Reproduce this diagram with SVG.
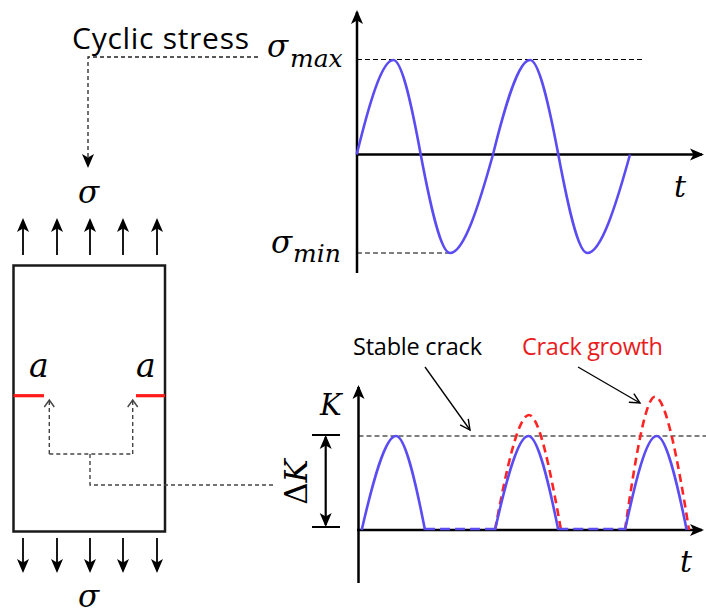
<svg xmlns="http://www.w3.org/2000/svg" width="706" height="613" viewBox="0 0 706 613">
<style>
.axis{stroke:#000;stroke-width:2.5;fill:none}
.guide{stroke:#000;stroke-width:1;stroke-dasharray:5 3;fill:none}
.conn{stroke:#222;stroke-width:1.3;stroke-dasharray:4 3;fill:none}
.crackconn{stroke:#444;stroke-width:1.4;stroke-dasharray:4 3;fill:none}
.load{stroke:#000;stroke-width:1.8;fill:none}
.blue{stroke:#5a4cf2;stroke-width:2.6;fill:none}
.bluedash{stroke:#5a4cf2;stroke-width:2.6;fill:none;stroke-dasharray:10 5}
.reddash{stroke:#ff2424;stroke-width:2.6;fill:none;stroke-dasharray:8 5}
.crack{stroke:#ff1a1a;stroke-width:3.2}
.math{font-family:"DejaVu Serif","Liberation Serif",serif;font-style:italic;fill:#000}
.lbl{font-family:"Open Sans","Liberation Sans",sans-serif;fill:#000}
.thin{stroke:#000;stroke-width:1.3;fill:none}
</style>
<defs>
<marker id="ah" viewBox="-16 -8 20 16" markerWidth="20" markerHeight="16" refX="0" refY="0" orient="auto-start-reverse" markerUnits="userSpaceOnUse">
<path d="M2,0 L-12,-6 L-8.5,0 L-12,6 Z" fill="#000"/>
</marker>
<marker id="chev" viewBox="-12 -8 16 16" markerWidth="16" markerHeight="16" refX="0" refY="0" orient="auto" markerUnits="userSpaceOnUse">
<path d="M-7,-5 L0,0 L-7,5" fill="none" stroke="#444" stroke-width="1.4"/>
</marker>
<marker id="vopen" viewBox="-14 -8 18 16" markerWidth="18" markerHeight="16" refX="0" refY="0" orient="auto" markerUnits="userSpaceOnUse">
<path d="M-10,-5 L0,0 L-10,5" fill="none" stroke="#000" stroke-width="1.4"/>
</marker>
</defs>

<g id="stress-graph">
<line class="guide" x1="357" y1="59.5" x2="644" y2="59.5"/>
<line class="guide" x1="357" y1="253" x2="450" y2="253"/>
<line class="axis" x1="357" y1="273" x2="357" y2="12" marker-end="url(#ah)"/>
<line class="axis" x1="357" y1="154.5" x2="702" y2="154.5" marker-end="url(#ah)"/>
<path class="blue" d="M356.7,154.5 C368.8,105.4 381.6,60 393.3,60 C402.1,60 411.7,105.4 420.7,154.5 C430.4,205.7 440.6,253 450,253 C463.8,253 478.8,205.7 493,154.5 C505.2,105.4 518.2,60 530,60 C539.1,60 549,105.4 558.3,154.5 C567.9,205.7 578,253 587.3,253 C601,253 615.9,205.7 630,154.5"/>
<text class="math" x="267" y="57" font-size="31">σ</text>
<text class="math" x="290" y="67" font-size="25">max</text>
<text class="math" x="271" y="253" font-size="31">σ</text>
<text class="math" x="293" y="262" font-size="25">min</text>
<text class="math" x="674" y="197" font-size="30">t</text>
</g>

<g id="cyclic-stress-label">
<text class="lbl" x="72" y="49" font-size="30" textLength="177">Cyclic stress</text>
</g>

<g id="specimen">
<rect x="13.5" y="265.5" width="151.5" height="266" fill="none" stroke="#1a1a1a" stroke-width="2.5"/>
<line class="crack" x1="13.5" y1="395.7" x2="44" y2="395.7"/>
<line class="crack" x1="136" y1="395.7" x2="165" y2="395.7"/>
<text class="math" x="29" y="377" font-size="33">a</text>
<text class="math" x="136" y="377" font-size="33">a</text>
</g>

<g id="loads-top">
<text class="math" x="78" y="203" font-size="31">σ</text>
<line class="load" x1="23" y1="255" x2="23" y2="220" marker-end="url(#ah)"/>
<line class="load" x1="57" y1="255" x2="57" y2="220" marker-end="url(#ah)"/>
<line class="load" x1="90" y1="255" x2="90" y2="220" marker-end="url(#ah)"/>
<line class="load" x1="123" y1="255" x2="123" y2="220" marker-end="url(#ah)"/>
<line class="load" x1="157" y1="255" x2="157" y2="220" marker-end="url(#ah)"/>
</g>

<g id="loads-bottom">
<line class="load" x1="23" y1="538" x2="23" y2="571" marker-end="url(#ah)"/>
<line class="load" x1="57" y1="538" x2="57" y2="571" marker-end="url(#ah)"/>
<line class="load" x1="90" y1="538" x2="90" y2="571" marker-end="url(#ah)"/>
<line class="load" x1="123" y1="538" x2="123" y2="571" marker-end="url(#ah)"/>
<line class="load" x1="157" y1="538" x2="157" y2="571" marker-end="url(#ah)"/>
<text class="math" x="78" y="607" font-size="31">σ</text>
</g>

<g id="k-graph">
<line class="guide" x1="358.5" y1="436" x2="706" y2="436"/>
<line class="axis" x1="358.5" y1="583" x2="358.5" y2="387" marker-end="url(#ah)"/>
<line class="axis" x1="357" y1="530" x2="702" y2="530" marker-end="url(#ah)"/>
<path class="reddash" d="M495,530 C506.2,470.2 518.1,415 529,415 C539.2,415 550.4,470.2 561,530"/>
<path class="reddash" d="M625,530 C634.9,460.7 645.4,396.7 655,396.7 C665.9,396.7 678.1,460.7 689,530"/>
<path class="blue" d="M361.7,530 C373,481.1 385,436 396,436 C405.3,436 415.4,481.1 425,530"/>
<path class="blue" d="M495,530 C506,481.1 517.9,436 528.3,436 C537.9,436 548.4,481.1 558.3,530"/>
<path class="blue" d="M625,530 C635.5,481.1 646.3,436 656.7,436 C666.3,436 676.8,481.1 686.7,530"/>
<path class="bluedash" d="M425,529 H495 M558.3,529 H625"/>
<text class="math" x="320" y="415" font-size="29">K</text>
<text class="math" x="680" y="572" font-size="30">t</text>
</g>

<g id="delta-k">
<line x1="312" y1="435" x2="340" y2="435" stroke="#000" stroke-width="2"/>
<line x1="312" y1="527" x2="340" y2="527" stroke="#000" stroke-width="2"/>
<line x1="325.7" y1="437" x2="325.7" y2="525" stroke="#000" stroke-width="2.2" marker-start="url(#ah)" marker-end="url(#ah)"/>
<text transform="translate(307,482) rotate(-90)" text-anchor="middle" font-family="DejaVu Serif, Liberation Serif, serif" font-size="31" fill="#000">Δ<tspan font-style="italic">K</tspan></text>
</g>

<g id="stable-crack-label">
<text class="lbl" x="353" y="355" font-size="23.5" textLength="129">Stable crack</text>
</g>

<g id="crack-growth-label">
<text class="lbl" x="522" y="355" font-size="23.5" textLength="141" style="fill:#e81c1c">Crack growth</text>
</g>

<g id="connectors">
<path class="conn" d="M258,57 H88 V166" marker-end="url(#ah)"/>
<path class="crackconn" d="M49.3,454 V400" marker-end="url(#chev)"/>
<path class="crackconn" d="M132.7,454 V400" marker-end="url(#chev)"/>
<path class="crackconn" d="M49.3,454 H132.7 M90,454 V485 H276"/>
<line class="thin" x1="425" y1="367" x2="470" y2="430" marker-end="url(#vopen)"/>
<line class="thin" x1="578" y1="367" x2="640" y2="403" marker-end="url(#vopen)"/>
</g>
</svg>
